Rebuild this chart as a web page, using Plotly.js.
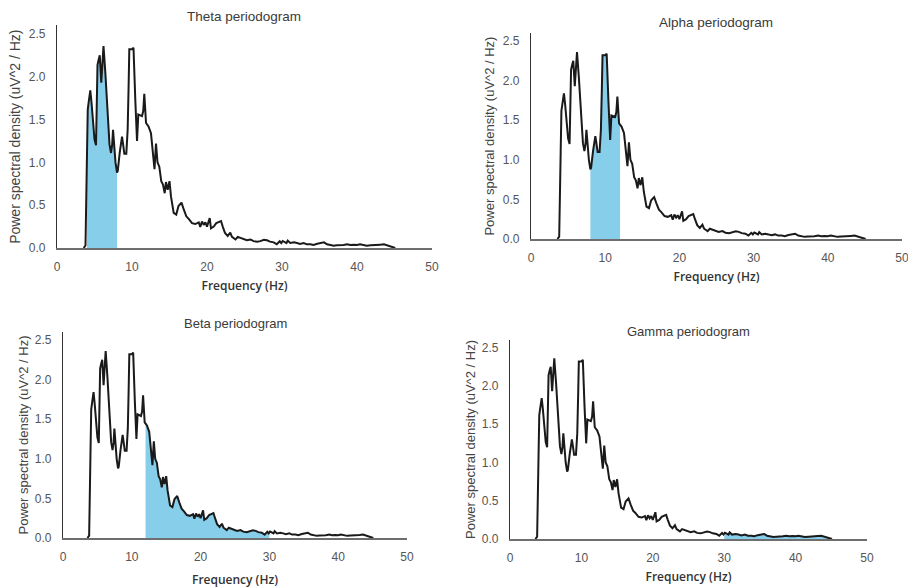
<!DOCTYPE html>
<html>
<head>
<meta charset="utf-8">
<script src="https://cdn.plot.ly/plotly-3.0.1.min.js"></script>
<style>
  html, body { margin: 0; padding: 0; background: #ffffff; overflow: hidden; }
  #chart { width: 916px; height: 588px; }
</style>
</head>
<body>
<div id="chart"></div>
<script>
// ---- data ----
const freqs = [3.56, 3.8, 4.0, 4.1, 4.25, 4.44, 4.6, 4.8, 5.0, 5.2, 5.4, 5.55, 5.7, 5.9, 6.05, 6.2, 6.45, 6.6, 6.76, 6.9, 7.0, 7.2, 7.35, 7.47, 7.64, 7.8, 8.0, 8.1, 8.36, 8.5, 8.67, 8.8, 8.98, 9.24, 9.42, 9.55, 9.64, 10.0, 10.2, 10.44, 10.67, 10.84, 11.1, 11.33, 11.5, 11.64, 11.87, 12.0, 12.2, 12.53, 12.8, 13.0, 13.2, 13.4, 13.64, 13.9, 14.13, 14.36, 14.53, 14.65, 14.76, 15.0, 15.2, 15.56, 15.9, 16.2, 16.6, 16.9, 17.24, 17.56, 18.0, 18.44, 18.9, 19.1, 19.33, 19.56, 19.78, 20.0, 20.36, 20.53, 20.9, 21.24, 21.56, 21.87, 22.1, 22.4, 22.76, 23.1, 23.33, 23.8, 24.1, 24.4, 24.9, 25.3, 25.8, 26.2, 26.7, 27.1, 27.6, 28.0, 28.4, 28.9, 29.3, 29.7, 29.9, 30.0, 30.1, 30.6, 30.76, 31.1, 31.6, 32.0, 32.4, 32.9, 33.3, 33.8, 34.2, 34.7, 35.1, 35.6, 36.0, 36.4, 36.9, 37.3, 37.8, 38.2, 38.7, 39.1, 39.6, 40.0, 40.4, 40.9, 41.3, 41.8, 42.2, 42.7, 43.1, 43.6, 44.0, 44.4, 44.8, 45.1];
const psd = [0, 0.03, 1.1, 1.62, 1.72, 1.84, 1.7, 1.45, 1.27, 1.20, 2.14, 2.2, 2.25, 1.93, 2.15, 2.36, 2.04, 1.8, 1.62, 1.35, 1.21, 1.11, 1.2, 1.38, 1.15, 1.0, 0.88, 0.90, 1.11, 1.2, 1.30, 1.22, 1.10, 1.10, 1.38, 1.9, 2.32, 2.32, 2.34, 1.73, 1.25, 1.56, 1.55, 1.54, 1.6, 1.80, 1.46, 1.44, 1.42, 1.34, 1.07, 0.92, 1.22, 1.0, 0.95, 0.78, 0.74, 0.64, 0.77, 0.70, 0.68, 0.78, 0.60, 0.41, 0.39, 0.49, 0.53, 0.45, 0.37, 0.34, 0.29, 0.28, 0.30, 0.245, 0.31, 0.27, 0.30, 0.25, 0.35, 0.23, 0.25, 0.29, 0.30, 0.315, 0.25, 0.175, 0.14, 0.18, 0.13, 0.10, 0.13, 0.12, 0.105, 0.09, 0.10, 0.08, 0.074, 0.08, 0.097, 0.09, 0.074, 0.066, 0.043, 0.078, 0.058, 0.07, 0.082, 0.058, 0.086, 0.058, 0.066, 0.058, 0.047, 0.058, 0.043, 0.043, 0.035, 0.05, 0.058, 0.066, 0.043, 0.035, 0.027, 0.031, 0.031, 0.035, 0.043, 0.035, 0.039, 0.035, 0.043, 0.031, 0.027, 0.031, 0.031, 0.035, 0.039, 0.043, 0.031, 0.02, 0.008, 0];
const panelTitles = ['Theta periodogram', 'Alpha periodogram', 'Beta periodogram', 'Gamma periodogram'];
const bandLow = [4, 8, 12, 30];
const bandHigh = [8, 12, 30, 45];
const xTickVals = [0, 10, 20, 30, 40, 50];
const yTickVals = [0, 0.5, 1.0, 1.5, 2.0, 2.5];
const yTickText = ['0.0', '0.5', '1.0', '1.5', '2.0', '2.5'];
const xTitle = 'Frequency (Hz)';
const yTitle = 'Power spectral density (uV^2 / Hz)';

// ---- layout geometry (pixels) ----
const W = 916, H = 588;
const boxes = [
  {l: 57,  r: 432, b: 248, t: 25.4, tx: 244, ty: 16,  yfs: 14,   tfs: 13.5, ysd: 4, xsd: 8},
  {l: 531, r: 902, b: 239, t: 33.1, tx: 716, ty: 23,  yfs: 13,   tfs: 13.5, ysd: 5, xsd: 8},
  {l: 63,  r: 407, b: 538, t: 332,  tx: 235, ty: 323, yfs: 13,   tfs: 13,   ysd: 3, xsd: 12},
  {l: 510, r: 867, b: 539, t: 340,  tx: 688, ty: 331, yfs: 13,   tfs: 13,   ysd: 3, xsd: 8}
];

const traces = [];
const layout = {
  width: W, height: H,
  margin: {l: 0, r: 0, t: 0, b: 0, pad: 0},
  paper_bgcolor: '#ffffff', plot_bgcolor: '#ffffff',
  showlegend: false,
  font: {family: 'Arial, "Liberation Sans", sans-serif', color: '#555555', size: 12},
  annotations: []
};

boxes.forEach((bx, i) => {
  const n = i + 1;
  const xa = 'x' + (n === 1 ? '' : n), ya = 'y' + (n === 1 ? '' : n);
  const fx = [], fy = [];
  freqs.forEach((f, k) => { if (f >= bandLow[i] && f <= bandHigh[i]) { fx.push(f); fy.push(psd[k]); } });
  traces.push({
    x: fx, y: fy, xaxis: xa, yaxis: ya, type: 'scatter', mode: 'lines',
    fill: 'tozeroy', fillcolor: '#87ceeb', line: {width: 0, color: '#87ceeb'},
    hoverinfo: 'skip'
  });
  traces.push({
    x: freqs, y: psd, xaxis: xa, yaxis: ya, type: 'scatter', mode: 'lines',
    line: {color: '#1a1a1a', width: 2}
  });
  const xKey = 'xaxis' + (n === 1 ? '' : n), yKey = 'yaxis' + (n === 1 ? '' : n);
  layout[xKey] = {
    domain: [bx.l / W, bx.r / W], anchor: ya, range: [0, 50],
    tickvals: xTickVals, ticks: '', ticklabelstandoff: 7, ticklabeloverflow: 'allow',
    tickfont: {size: 12, color: '#555555'},
    showgrid: false, zeroline: false, showline: true, linecolor: '#6e6e6e', linewidth: 1.5,
    title: {text: xTitle, standoff: bx.xsd, font: {family: '"Open Sans", sans-serif', size: 12, weight: 600, color: '#333333'}}
  };
  layout[yKey] = {
    domain: [(H - bx.b) / H, (H - bx.t) / H], anchor: xa, range: [0, 2.6],
    tickvals: yTickVals, ticktext: yTickText, ticks: '', ticklabelstandoff: 8,
    tickfont: {size: 12, color: '#555555'},
    showgrid: false, zeroline: false, showline: true, linecolor: '#333333', linewidth: 1.2,
    title: {text: yTitle, standoff: bx.ysd, font: {size: bx.yfs, color: '#444444'}}
  };
  layout.annotations.push({
    text: panelTitles[i], xref: 'paper', yref: 'paper',
    x: bx.tx / W, y: 1 - bx.ty / H, xanchor: 'center', yanchor: 'middle',
    showarrow: false, font: {size: bx.tfs, color: '#3a3a3a'}
  });
});

Plotly.newPlot('chart', traces, layout, {displayModeBar: false, responsive: false});
</script>
</body>
</html>
